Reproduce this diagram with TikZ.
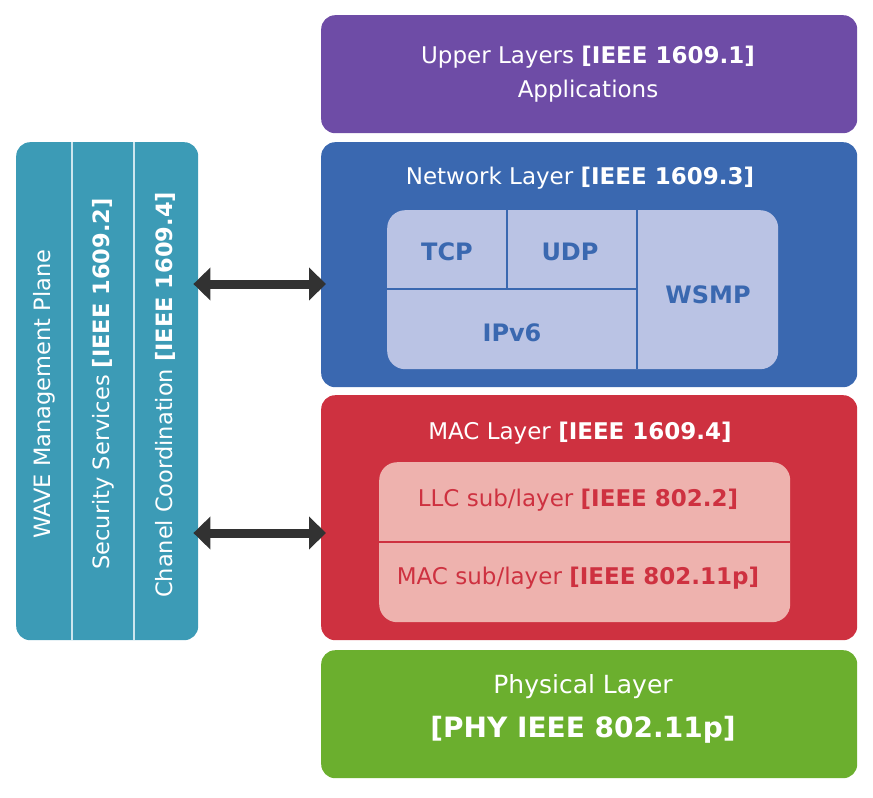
\documentclass[tikz,border=0pt]{standalone}
\usepackage{fontspec}
\setmainfont{DejaVu Sans}
\usetikzlibrary{arrows.meta,positioning}
\definecolor{upperpurple}{RGB}{110,76,166}
\definecolor{netblue}{RGB}{58,104,176}
\definecolor{netlight}{RGB}{186,195,228}
\definecolor{macred}{RGB}{206,49,64}
\definecolor{maclight}{RGB}{238,178,174}
\definecolor{phygreen}{RGB}{107,175,46}
\definecolor{waveteal}{RGB}{60,155,182}
\definecolor{wavelight}{RGB}{205,230,238}
\definecolor{arrowdark}{RGB}{50,50,50}
\begin{document}
\begin{tikzpicture}[
  x=1pt, y=-1pt,
  layer/.style={
    fill=#1,
    rounded corners=14pt,
    inner sep=0pt,
    anchor=north west
  },
  inner_box/.style={
    fill=#1,
    rounded corners=18pt,
    inner sep=0pt,
    anchor=north west
  },
  title/.style={
    text=white,
    font=\fontsize{23}{27}\selectfont
  },
  proto/.style={
    text=netblue,
    font=\fontsize{24}{28}\selectfont\bfseries
  },
  sublayer/.style={
    text=macred,
    font=\fontsize{23}{27}\selectfont
  },
  plane_text/.style={
    text=white,
    rotate=90,
    font=\fontsize{22.5}{27}\selectfont
  },
  divider/.style={
    draw=#1,
    line width=2.5pt
  },
  duplex/.style={
    draw=arrowdark,
    line width=9pt,
    {Triangle[length=17pt,width=32pt]}-{Triangle[length=17pt,width=32pt]},
    shorten <=-5pt,
    shorten >=-5pt
  }
]%
\useasboundingbox (0,0) rectangle (873,798);
% layers
\node [layer=upperpurple, minimum width=536pt, minimum height=118pt] (upper) at (321,15) {};
\node [layer=netblue, minimum width=536pt, minimum height=245pt] (net) at (321,142) {};
\node [layer=macred, minimum width=536pt, minimum height=245pt] (mac) at (321,395) {};
\node [layer=phygreen, minimum width=536pt, minimum height=128pt] (phy) at (321,650) {};
\node [layer=waveteal, minimum width=182pt, minimum height=498pt] (wave) at (16,142) {};
% inner boxes
\node [inner_box=netlight, minimum width=391pt, minimum height=159pt] (netin) at (387,210) {};
\node [inner_box=maclight, minimum width=411pt, minimum height=160pt] (macin) at (379,462) {};
\draw [divider=netblue] (507,210) -- (507,289);
\draw [divider=netblue] (387,289) -- (637,289);
\draw [divider=netblue] (637,210) -- (637,369);
\draw [divider=macred, line width=2pt] (379,542) -- (790,542);
\draw [divider=wavelight, line width=2pt] (72,142) -- (72,640);
\draw [divider=wavelight, line width=2pt] (134,142) -- (134,640);
% texts
\node [title] (upper_t1) at (588,57) {Upper Layers \textbf{[IEEE 1609.1]}};
\node [title] (upper_t2) at (588,91) {Applications};
\node [title] (net_t) at (580,178) {Network Layer \textbf{[IEEE 1609.3]}};
\node [proto] (tcp) at (447,252) {TCP};
\node [proto] (udp) at (570,252) {UDP};
\node [proto] (ipv) at (512,333) {IPv6};
\node [proto] (wsmp) at (708,295) {WSMP};
\node [title] (mac_t) at (580,433) {MAC Layer \textbf{[IEEE 1609.4]}};
\node [sublayer] (llc) at (578,500) {LLC sub/layer \textbf{[IEEE 802.2]}};
\node [sublayer] (macsub) at (578,578) {MAC sub/layer \textbf{[IEEE 802.11p]}};
\node [title, font=\fontsize{25}{30}\selectfont] (phy_t1) at (583,687) {Physical Layer};
\node [title, font=\fontsize{28}{32}\selectfont\bfseries] (phy_t2) at (583,730) {[PHY IEEE 802.11p]};
\node [plane_text] (wave_t) at (44,394) {WAVE Management Plane};
\node [plane_text] (sec_t) at (103,384) {Security Services \textbf{[IEEE 1609.2]}};
\node [plane_text] (chan_t) at (165,395) {Chanel Coordination \textbf{[IEEE 1609.4]}};
% arrows
\draw [duplex] (wave.east |- 0,284) -- (net.west |- 0,284);
\draw [duplex] (wave.east |- 0,533) -- (mac.west |- 0,533);
\end{tikzpicture}
\end{document}
